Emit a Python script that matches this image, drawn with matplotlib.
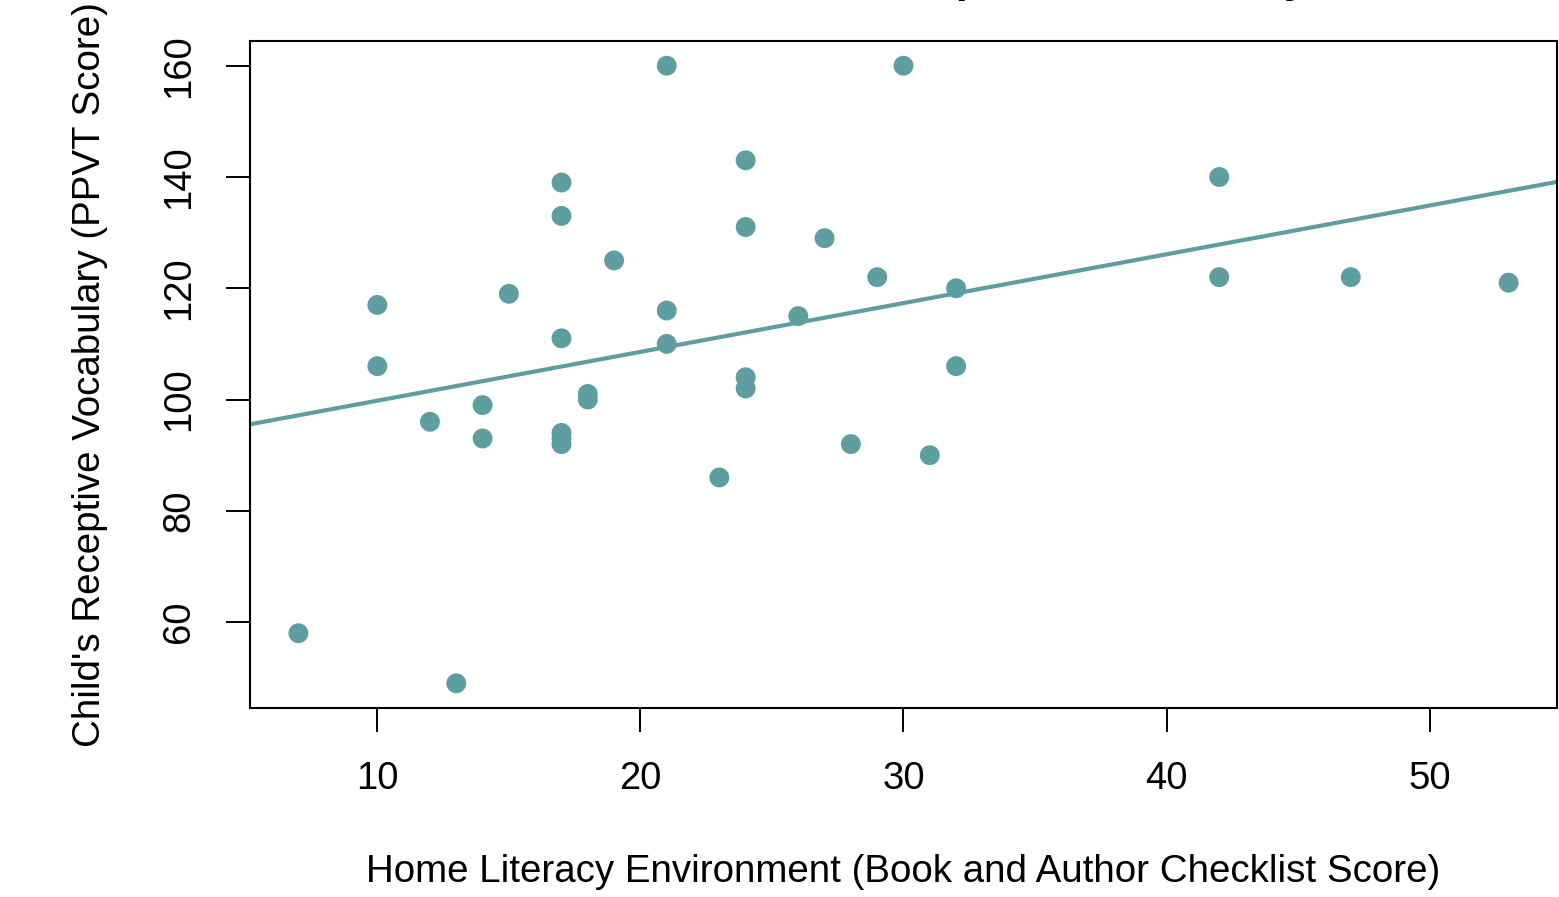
import numpy as np
import matplotlib
matplotlib.use("Agg")
import matplotlib.pyplot as plt

plt.rcParams['font.family'] = ['Liberation Sans', 'DejaVu Sans']

# Home literacy (checklist score) vs child's PPVT score
hle = [7, 13, 10, 10, 12, 14, 14, 15, 17, 17, 17, 17, 17, 17, 18, 18, 19,
       21, 21, 21, 23, 24, 24, 24, 24, 26, 27, 28, 29, 30, 31, 32, 32,
       42, 42, 47, 53]
ppvt = [58, 49, 117, 106, 96, 99, 93, 119, 139, 133, 111, 94, 93, 92, 101, 100, 125,
        160, 116, 110, 86, 143, 131, 104, 102, 115, 129, 92, 122, 160, 90, 120, 106,
        140, 122, 122, 121]

title = "Home Books and Child's Receptive Vocabulary"
xlabel = "Home Literacy Environment (Book and Author Checklist Score)"
ylabel = "Child's Receptive Vocabulary (PPVT Score)"
col = '#5F9EA0'  # cadetblue

x = np.array(hle, dtype=float)
y = np.array(ppvt, dtype=float)

fig = plt.figure(figsize=(15.59, 8.97), dpi=100)
ax = fig.add_axes([250 / 1559, (897 - 708) / 897, 1307 / 1559, 667 / 897])

ax.scatter(x, y, s=205, color=col, edgecolors='none', zorder=3)

# least squares line, like abline(lm(y ~ x))
slope, icpt = np.polyfit(x, y, 1)
ax.axline((0, icpt), slope=slope, color=col, lw=3.0, zorder=2)

# R style 4% padding
xr = x.max() - x.min()
yr = y.max() - y.min()
ax.set_xlim(x.min() - 0.04 * xr, x.max() + 0.04 * xr)
ax.set_ylim(y.min() - 0.04 * yr, y.max() + 0.04 * yr)

ax.set_xticks([10, 20, 30, 40, 50])
ax.set_yticks([60, 80, 100, 120, 140, 160])
ax.tick_params(axis='both', length=17, width=1.4, pad=21, labelsize=27.5, direction='out')
for lab in ax.get_yticklabels():
    lab.set_rotation(90)
    lab.set_va('center')
for sp in ax.spines.values():
    sp.set_linewidth(1.5)

ax.set_xlabel(xlabel, fontsize=27.7)
ax.set_ylabel(ylabel, fontsize=27.7)
ax.xaxis.set_label_coords((903 - 250) / 1307, (708 - 872) / 667)
ax.yaxis.set_label_coords((90 - 250) / 1307, 0.5)
ax.xaxis.label.set_va('center')
ax.yaxis.label.set_va('center')

# title sits above the top edge, only its descenders show
fig.text(811 / 1559, 1 - 1 / 897, title, ha='center', va='bottom',
         fontsize=32, fontweight='bold')

fig.savefig('out.png', dpi=100)
